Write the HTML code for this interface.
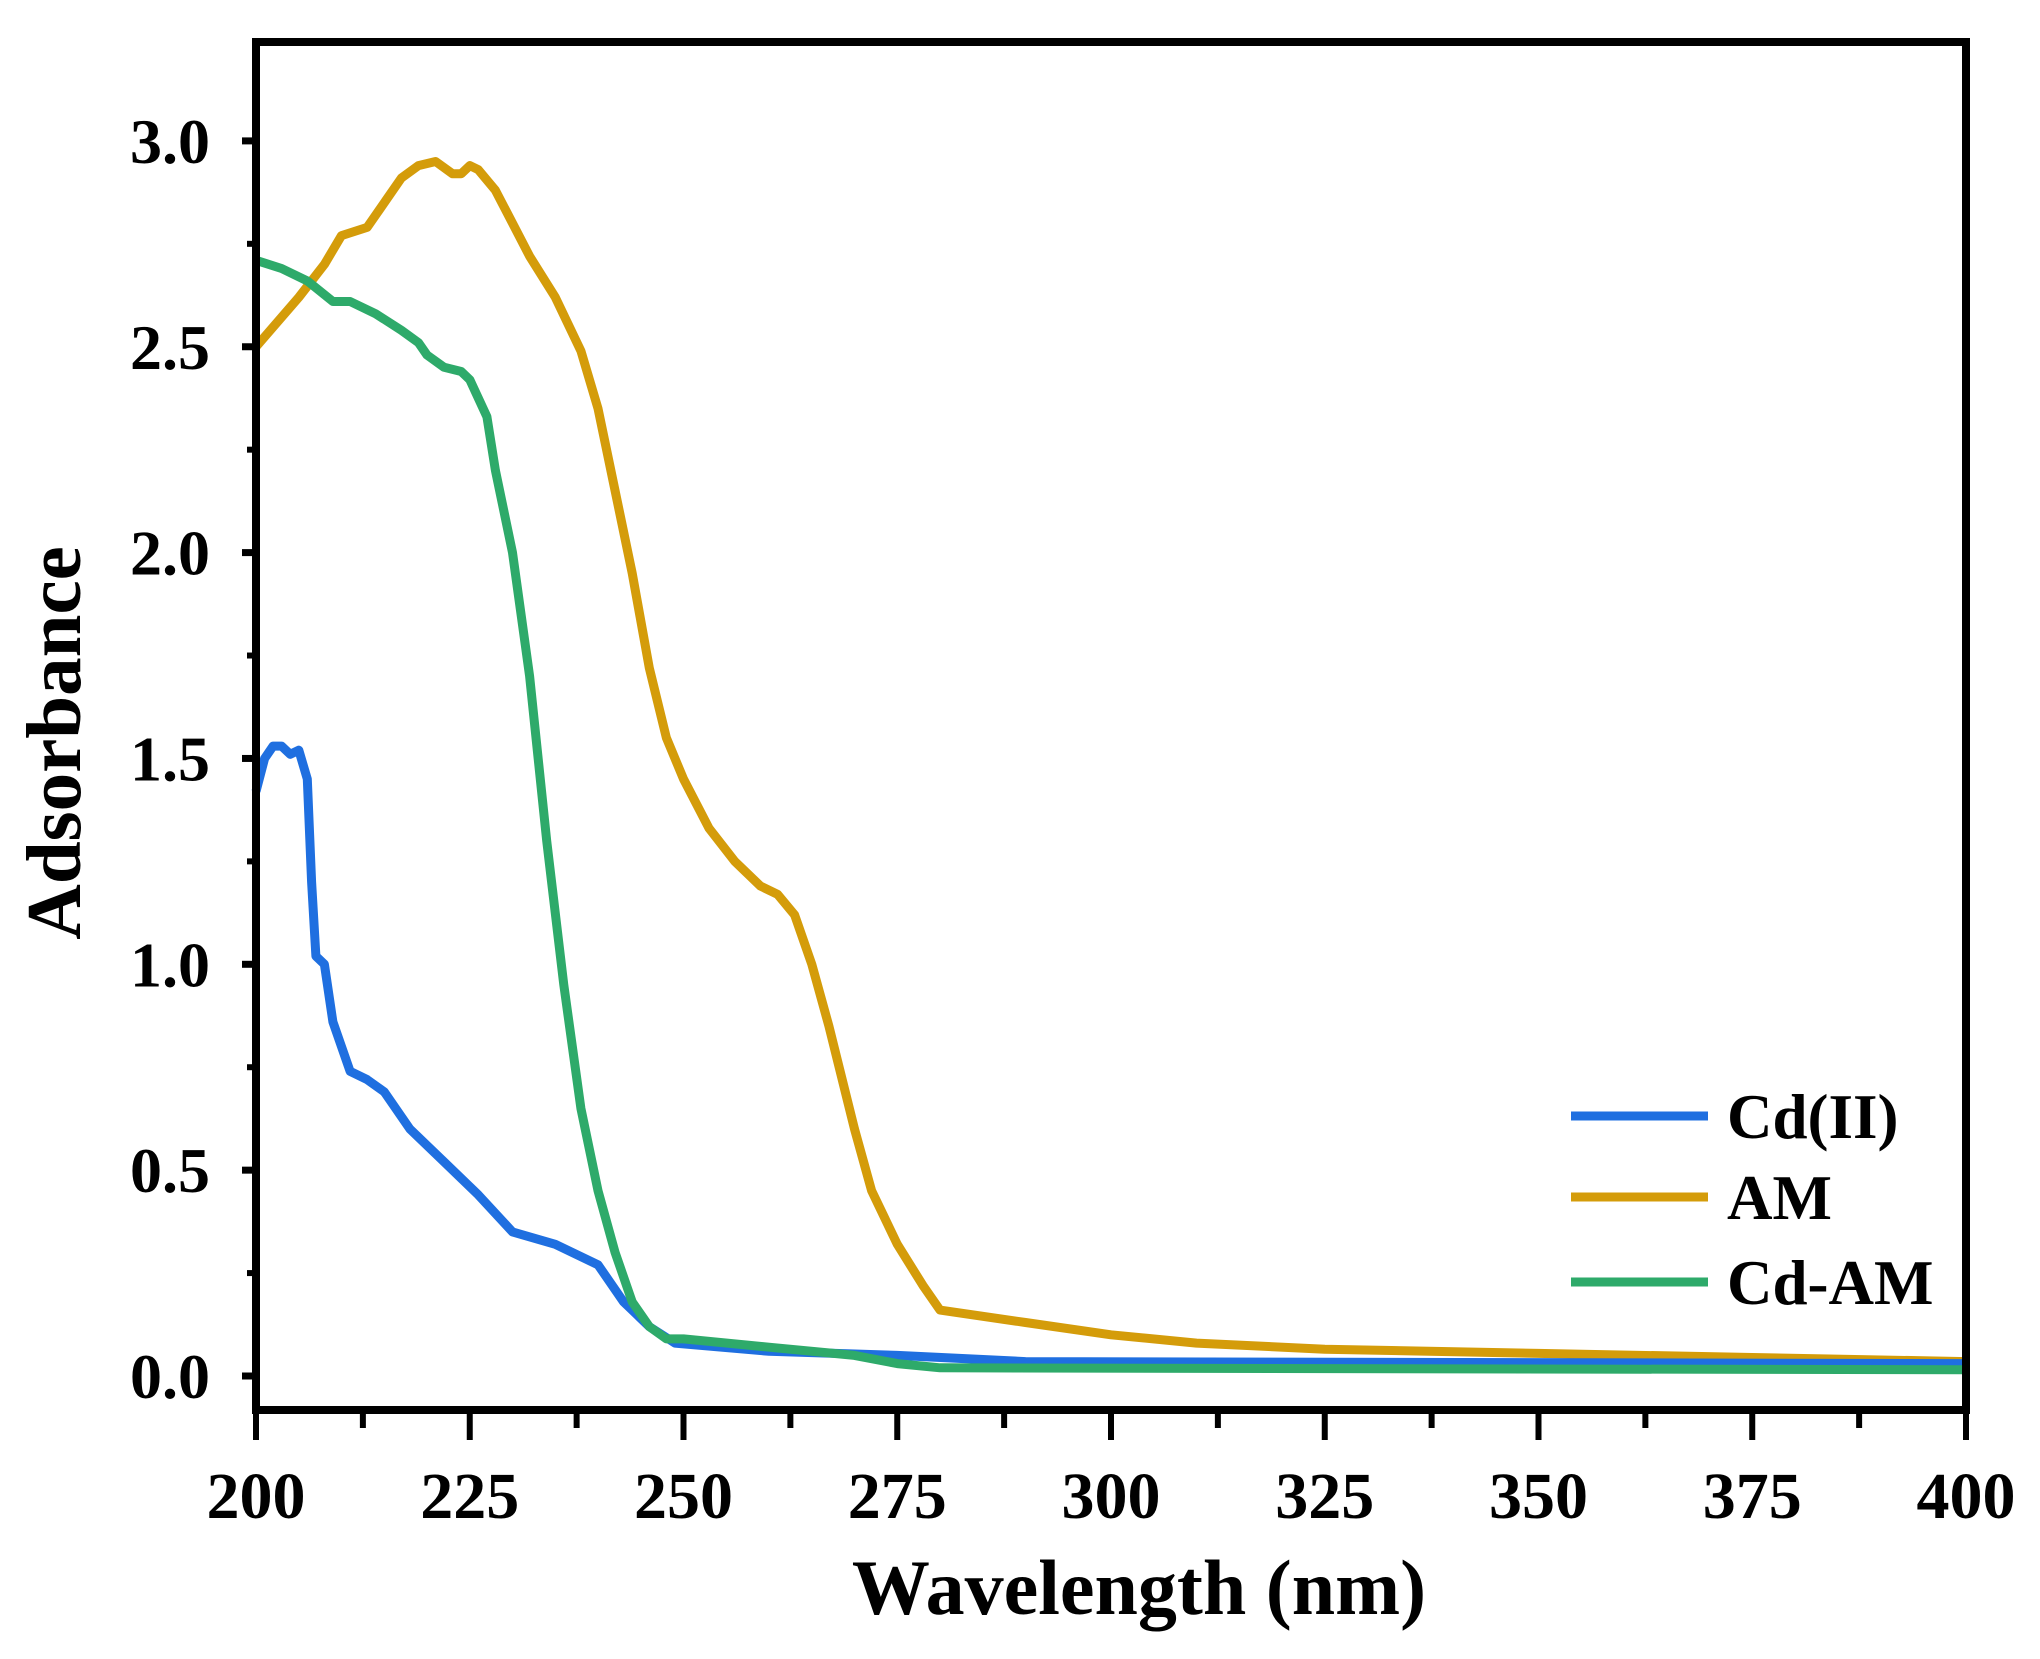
<!DOCTYPE html>
<html><head><meta charset="utf-8"><style>
html,body{margin:0;padding:0;background:#fff;}
svg{display:block;}
text{font-family:"Liberation Serif",serif;font-weight:bold;fill:#000;}
</style></head><body>
<svg id="s" width="2040" height="1659" viewBox="0 0 2040 1659" xmlns="http://www.w3.org/2000/svg"></svg>
<script>
const S=document.getElementById('s');
const X0=256,X1=1966,Y0=1376,YU=411.7,TOP=42,BOT=1410;
const px=x=>X0+(x-200)*(X1-X0)/200, py=y=>Y0-y*YU;
let h='';
const AM=[[200,2.5],[205,2.62],[208,2.7],[210,2.77],[213,2.79],[215,2.85],[217,2.91],[219,2.94],[221,2.95],[223,2.92],[224,2.92],[225,2.94],[226,2.93],[228,2.88],[230,2.8],[232,2.72],[235,2.62],[238,2.49],[240,2.35],[242,2.15],[244,1.95],[246,1.72],[248,1.55],[250,1.45],[253,1.33],[256,1.25],[259,1.19],[261,1.17],[263,1.12],[265,1.0],[267,0.85],[270,0.6],[272,0.45],[275,0.32],[278,0.22],[280,0.16],[290,0.13],[300,0.1],[310,0.08],[325,0.065],[350,0.055],[375,0.045],[400,0.035]];
const GR=[[200,2.71],[203,2.69],[206,2.66],[209,2.61],[211,2.61],[214,2.58],[217,2.54],[219,2.51],[220,2.48],[222,2.45],[224,2.44],[225,2.42],[227,2.33],[228,2.2],[230,2.0],[232,1.7],[234,1.3],[236,0.95],[238,0.65],[240,0.45],[242,0.3],[244,0.18],[246,0.12],[248,0.09],[250,0.09],[260,0.07],[270,0.05],[275,0.03],[280,0.02],[400,0.015]];
const BL=[[200,1.42],[201,1.5],[202,1.53],[203,1.53],[204,1.51],[205,1.52],[206,1.45],[206.5,1.2],[207,1.02],[208,1.0],[209,0.86],[210,0.8],[211,0.74],[213,0.72],[215,0.69],[218,0.6],[222,0.52],[226,0.44],[230,0.35],[235,0.32],[240,0.27],[243,0.18],[246,0.12],[249,0.08],[260,0.06],[275,0.05],[290,0.035],[400,0.03]];
const pl=(d,c)=>`<polyline fill="none" stroke="${c}" stroke-width="9" stroke-linejoin="round" points="${d.map(p=>px(p[0]).toFixed(1)+','+py(p[1]).toFixed(1)).join(' ')}"/>`;
h+=pl(AM,'#D49C0A')+pl(BL,'#1F6FE0')+pl(GR,'#2EAA6A');
h+=`<rect x="${X0}" y="${TOP}" width="${X1-X0}" height="${BOT-TOP}" fill="none" stroke="#000" stroke-width="8"/>`;
for(let i=0;i<=6;i++){const v=i*0.5,y=py(v);h+=`<line x1="${X0-14}" y1="${y}" x2="${X0}" y2="${y}" stroke="#000" stroke-width="7"/>`;
h+=`<text x="${X0-46}" y="${y+22}" font-size="64" text-anchor="end">${v.toFixed(1)}</text>`;
if(i<6){const m=py(v+0.25);h+=`<line x1="${X0-9}" y1="${m}" x2="${X0}" y2="${m}" stroke="#000" stroke-width="6"/>`;}}
for(let i=0;i<=8;i++){const v=200+i*25,x=px(v);h+=`<line x1="${x}" y1="${BOT}" x2="${x}" y2="${BOT+30}" stroke="#000" stroke-width="6"/>`;
h+=`<text x="${x}" y="${BOT+108}" font-size="66" text-anchor="middle">${v}</text>`;
if(i<8){const m=px(v+12.5);h+=`<line x1="${m}" y1="${BOT}" x2="${m}" y2="${BOT+18}" stroke="#000" stroke-width="6"/>`;}}
h+=`<text x="${(X0+X1)/2+28}" y="1614" font-size="78" text-anchor="middle">Wavelength (nm)</text>`;
h+=`<text transform="translate(80,743) rotate(-90)" font-size="77" text-anchor="middle">Adsorbance</text>`;
[['Cd(II)','#1F6FE0',1116],['AM','#D49C0A',1197],['Cd-AM','#2EAA6A',1282]].forEach(l=>{
h+=`<line x1="1571" y1="${l[2]}" x2="1708" y2="${l[2]}" stroke="${l[1]}" stroke-width="9"/>`;
h+=`<text x="1727" y="${l[2]+22}" font-size="63">${l[0]}</text>`;});
S.innerHTML=h;
</script>
</body></html>
